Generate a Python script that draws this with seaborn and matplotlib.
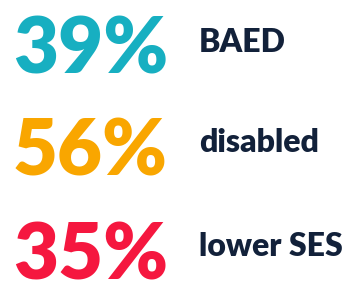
import matplotlib
matplotlib.use("Agg")
import matplotlib.pyplot as plt
import seaborn as sns

# values shown in the infographic
values = [39, 56, 35]
labels = ["BAED", "disabled", "lower SES"]
colors = ["#17AFC1", "#F9A600", "#F5173F"]

sns.set_style("white")
plt.rcParams['font.family'] = ['Lato', 'DejaVu Sans']

fig, ax = plt.subplots(figsize=(3.45, 2.82), dpi=100)
fig.subplots_adjust(0, 0, 1, 1)
ax.set_xlim(0, 345)
ax.set_ylim(282, 0)
ax.axis("off")

rows_y = [51, 153, 257]
label_y = [42, 142, 247]
for y, ly, v, lab, c in zip(rows_y, label_y, values, labels, colors):
    ax.text(13, y, f"{v}%", color=c, fontsize=56, fontweight="heavy",
            va="center", ha="left")
    ax.text(199, ly, lab, color="#12213A", fontsize=23, fontweight="heavy",
            va="center", ha="left")

plt.savefig("out.png", dpi=100)
